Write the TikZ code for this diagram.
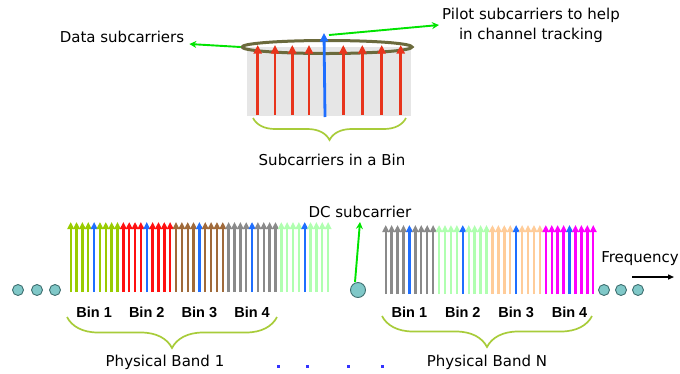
\documentclass[tikz,border=0pt]{standalone}
\usepackage{fontspec}
\setmainfont{DejaVu Sans}
\newfontfamily\binfont{Liberation Sans}
\usepackage{xcolor}
\definecolor{scgreen}{HTML}{99CC00}
\definecolor{scred}{HTML}{FF1010}
\definecolor{scbrown}{HTML}{A06A3A}
\definecolor{scgray}{HTML}{8A8A8A}
\definecolor{scmint}{HTML}{B0FFB0}
\definecolor{scpeach}{HTML}{FFCC99}
\definecolor{scmagenta}{HTML}{FF00FF}
\definecolor{scblue}{HTML}{1E6EFF}
\definecolor{sctopred}{HTML}{E8341C}
\definecolor{scbg}{HTML}{E6E6E6}
\definecolor{scring}{HTML}{6B6A3C}
\definecolor{scconn}{HTML}{00E400}
\definecolor{scbracecol}{HTML}{A8CC3A}
\definecolor{scdot}{HTML}{80C8C8}
\definecolor{scdotline}{HTML}{3F6F70}
\definecolor{scdotblue}{HTML}{3333FF}
\usepackage{tikz}
\usetikzlibrary{arrows.meta,positioning,shapes.geometric,decorations.pathreplacing,calc}
\tikzset{
  sctone/.style={-{Triangle[width=6.5pt,length=7pt]},line width=2.4pt},
  scbig/.style={-{Triangle[width=8pt,length=8.5pt]},line width=2.8pt},
  scflow/.style={-{Stealth[width=7pt,length=7pt]},line width=1.9pt,draw=scconn,fill=scconn},
  binbrace/.style={decorate,decoration={brace,mirror,amplitude=#1},line width=1.7pt,draw=scbracecol},
  sclabel/.style={font=\fontsize{15}{20}\selectfont,inner sep=0pt,align=center},
  scbin/.style={font=\binfont\bfseries\fontsize{14.5}{17}\selectfont,inner sep=0pt},
  scball/.style={circle,draw=scdotline,fill=scdot,line width=0.9pt,minimum size=11pt,inner sep=0pt},
}

\begin{document}
\begin{tikzpicture}[x=1pt,y=-1pt]
\useasboundingbox (0,0) rectangle (680,373);
 % one bin, close up
\fill[scbg] (247,47) rectangle (411,116);
\node[ellipse,draw=scring,line width=3pt,minimum width=170pt,minimum height=13pt,inner sep=0pt] (ring) at (327,47) {};
\foreach \xx in {257.7,275,292.3,309,343.3,362.3,381.7,400.7}
  \draw[scbig,color=sctopred] (\xx,115) -- (\xx,45);
\draw[scbig,color=scblue] (325,117) -- (324,33);
\coordinate (pilottip) at (329,35);
\node[sclabel] (data) at (122,37) {Data subcarriers};
\node[sclabel] (pilot) at (531,25) {Pilot subcarriers to help\\in channel tracking};
\draw[scflow] (ring.west) -- ([xshift=5pt,yshift=-7pt]data.east);
\draw[scflow] (pilottip) -- ([xshift=-3pt]pilot.west);
\coordinate (binl) at (253,118);
\coordinate (binr) at (406,118);
\draw[binbrace=22pt] (binl) -- (binr);
\node[sclabel] (binname) at (332,160) {Subcarriers in a Bin};
 % physical band 1
\foreach \col [count=\b from 0] in {scgreen,scred,scbrown,scgray,scmint}
  \foreach \k in {0,...,8}{
    \pgfmathsetmacro\xx{70.7+5.85*(9*\b+\k)}
    \ifnum\k=4 \draw[sctone,color=scblue] (\xx,292) -- (\xx,222);
    \else \draw[sctone,color=\col] (\xx,292) -- (\xx,222); \fi
  }
\foreach \b in {1,...,4}{
  \pgfmathsetmacro\xx{70.7+5.85*(9*\b-5)}
  \node[scbin] (bandonebin\b) at (\xx,312) {Bin \b};
}
\coordinate (bandonel) at (67,317);
\coordinate (bandoner) at (277,317);
\draw[binbrace=31pt] (bandonel) -- (bandoner);
\node[sclabel] (bandone) at (165,362) {Physical Band 1};
 % physical band N
\foreach \col [count=\b from 0] in {scgray,scmint,scpeach,scmagenta}
  \foreach \k in {0,...,8}{
    \pgfmathsetmacro\xx{385.7+5.93*(9*\b+\k)}
    \ifnum\k=4 \draw[sctone,color=scblue] (\xx,294) -- (\xx,225);
    \else \draw[sctone,color=\col] (\xx,294) -- (\xx,225); \fi
  }
\foreach \b in {1,...,4}{
  \pgfmathsetmacro\xx{385.7+5.93*(9*\b-5)}
  \node[scbin] (bandnbin\b) at (\xx,312) {Bin \b};
}
\coordinate (bandnl) at (382,316);
\coordinate (bandnr) at (592,316);
\draw[binbrace=31pt] (bandnl) -- (bandnr);
\node[sclabel] (bandn) at (487,362) {Physical Band N};
\foreach \xx in {278,307,348,382}
  \fill[scdotblue] (\xx-1.5,364.5) rectangle (\xx+1.5,367.5);
 % DC and the bands beyond
\node[scball,minimum size=15pt] (dc) at (358,290) {};
\node[sclabel] (dclabel) at (360,212) {DC subcarrier};
\draw[scflow] ([xshift=-3pt]dc.north) -- ([yshift=-4pt]dclabel.south);
\foreach \xx [count=\i] in {18,37,55,604,621,638}
  \node[scball] (more\i) at (\xx,290) {};
\node[sclabel] (freq) at (640,259) {Frequency};
\coordinate (freqa) at (632,277);
\coordinate (freqb) at (674,277);
\draw[line width=1.4pt,-{Triangle[width=5pt,length=6pt]}] (freqa) -- (freqb);
\end{tikzpicture}
\end{document}
